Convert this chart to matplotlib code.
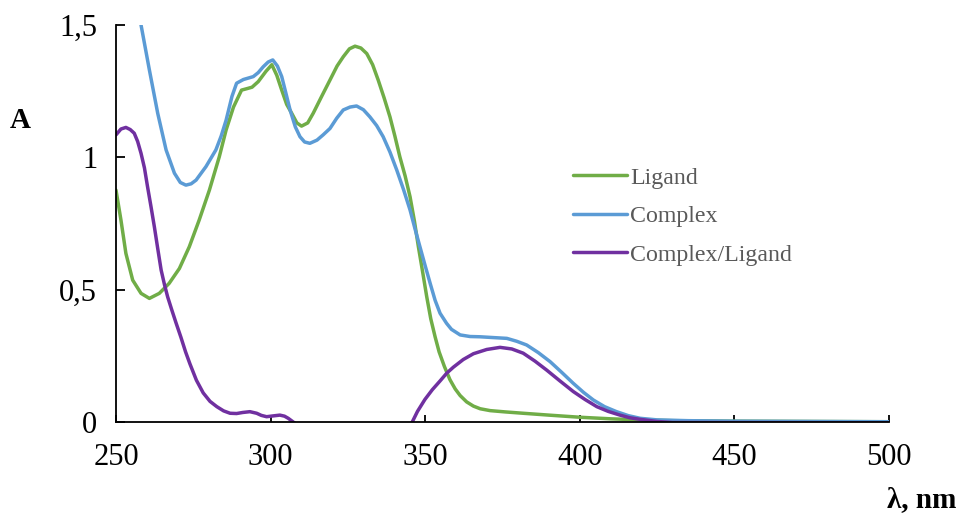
import matplotlib
matplotlib.use("Agg")
import matplotlib.pyplot as plt
from matplotlib.ticker import FuncFormatter

# wavelength (nm) / absorbance
ligand_wl = [250, 251.6, 253.2, 255.4, 258.1, 260.8, 264, 267.2, 270.5, 273.7, 276.9, 280.2,
             283.4, 285.6, 288, 290.6, 292.5, 294, 296, 298.5, 300.4, 302, 303.6, 305.2, 306.8,
             308.5, 310, 312, 313.8, 316.5, 319.2, 321.5, 323.5, 325.5, 327.3, 329.2, 331.1, 333,
             334.8, 336.7, 338.6, 340.2, 341.8, 343.5, 345.1, 346.5, 347.8, 349.2, 350.5, 351.8,
             353.2, 354.5, 356.2, 358, 359.7, 361.3, 363.4, 365.6, 367.8, 371, 376, 381.7, 390,
             400, 410, 419.5, 430, 450, 475, 500]
ligand_a = [0.876, 0.763, 0.637, 0.536, 0.486, 0.467, 0.486, 0.524, 0.58, 0.662, 0.763, 0.876,
            1.002, 1.103, 1.19, 1.254, 1.26, 1.265, 1.286, 1.325, 1.35, 1.31, 1.254, 1.2, 1.167,
            1.13, 1.118, 1.13, 1.167, 1.23, 1.292, 1.345, 1.38, 1.41, 1.42, 1.413, 1.392, 1.35,
            1.292, 1.225, 1.153, 1.08, 1.002, 0.93, 0.851, 0.76, 0.662, 0.565, 0.473, 0.39,
            0.322, 0.265, 0.21, 0.16, 0.125, 0.1, 0.076, 0.06, 0.05, 0.043, 0.038, 0.033, 0.026,
            0.018, 0.012, 0.008, 0.005, 0.003, 0.002, 0.001]

complex_wl = [255, 258.1, 260.8, 263.5, 266.2, 268.9, 270.8, 272.6, 274.3, 275.9, 279.1, 282.3,
              284, 285.6, 287.5, 289, 291.2, 294.4, 296, 297.6, 299.2, 300.7, 302.2, 303.6, 305,
              306.3, 308, 309.5, 311, 312.7, 315, 317, 319.2, 321.4, 323.5, 325.7, 327.8, 330,
              332.1, 334.3, 336.4, 338.6, 340.8, 343, 345.1, 346.7, 348.3, 350, 351.6, 353.2,
              354.8, 356.9, 358.5, 361.3, 364.5, 367.7, 372, 376.4, 379.6, 382.8, 386.6, 390.4,
              394.2, 397.9, 401.2, 404.4, 408, 411.9, 415.7, 419.5, 425, 435, 450, 475, 500]
complex_a = [1.70, 1.50, 1.33, 1.166, 1.028, 0.94, 0.905, 0.895, 0.9, 0.914, 0.965, 1.028,
             1.08, 1.14, 1.23, 1.28, 1.294, 1.305, 1.32, 1.342, 1.36, 1.368, 1.345, 1.305, 1.24,
             1.179, 1.115, 1.078, 1.058, 1.053, 1.065, 1.085, 1.109, 1.148, 1.179, 1.19, 1.194,
             1.18, 1.153, 1.12, 1.078, 1.02, 0.952, 0.878, 0.801, 0.73, 0.662, 0.59, 0.524, 0.46,
             0.411, 0.373, 0.35, 0.329, 0.323, 0.322, 0.319, 0.316, 0.305, 0.291, 0.262, 0.228,
             0.187, 0.146, 0.112, 0.083, 0.058, 0.039, 0.024, 0.014, 0.008, 0.005, 0.003, 0.002,
             0.001]

ratio_wl = [250, 251.6, 253.2, 254.6, 255.9, 257, 258.1, 259.2, 260.2, 261.3, 262.4, 263.5,
            264.6, 265.7, 266.7, 268, 269.4, 271, 272.5, 273.9, 276, 278.2, 280.4, 282.6,
            284.8, 286.9, 289, 291, 293.3, 295.5, 297, 298.7, 300.8, 303, 304.5, 305.7, 307.9,
            310, 320, 335, 343, 345.6, 347.5, 349.9, 352.3, 354.8, 357, 359.1, 362.3, 365.6,
            369.9, 374.2, 378, 381.7, 385.5, 389.3, 393.6, 397.9, 401.7, 405.5, 409.2, 413,
            416.2, 419.5, 425, 430, 500]
ratio_a = [1.085, 1.107, 1.113, 1.105, 1.091, 1.06, 1.015, 0.96, 0.889, 0.815, 0.738, 0.655,
           0.574, 0.518, 0.473, 0.425, 0.375, 0.32, 0.265, 0.22, 0.158, 0.11, 0.078, 0.058,
           0.042, 0.033, 0.032, 0.036, 0.039, 0.033, 0.025, 0.02, 0.023, 0.026, 0.022, 0.014,
           -0.005, -0.03, -0.08, -0.08, -0.03, -0.005, 0.04, 0.085, 0.122, 0.155, 0.185, 0.207,
           0.236, 0.258, 0.274, 0.282, 0.276, 0.26, 0.23, 0.196, 0.155, 0.115, 0.085, 0.058,
           0.04, 0.026, 0.016, 0.01, 0.002, -0.002, -0.003]

plt.rcParams['font.family'] = ['Liberation Serif', 'DejaVu Serif']

fig = plt.figure(figsize=(9.57, 5.19), dpi=100)
ax = fig.add_axes([116 / 957, 1 - 422 / 519, 773 / 957, 397 / 519])

ax.plot(ligand_wl, ligand_a, color='#70AD47', lw=2.5, label='Ligand', solid_capstyle='round')
ax.plot(complex_wl, complex_a, color='#5B9BD5', lw=2.5, label='Complex', solid_capstyle='round')
ax.plot(ratio_wl, ratio_a, color='#7030A0', lw=2.5, label='Complex/Ligand', solid_capstyle='round')

ax.set_xlim(250, 500)
ax.set_ylim(0, 1.5)
ax.set_xticks([250, 300, 350, 400, 450, 500])
ax.set_yticks([0, 0.5, 1, 1.5])
ax.yaxis.set_major_formatter(FuncFormatter(lambda v, p: ('%g' % v).replace('.', ',')))

for s in ['top', 'right']:
    ax.spines[s].set_visible(False)
for s in ['left', 'bottom']:
    ax.spines[s].set_linewidth(1.3)
ax.tick_params(axis='x', direction='in', length=5, width=1.3, labelsize=22, pad=15)
ax.tick_params(axis='y', direction='in', length=6.5, width=1.3, labelsize=22, pad=13.5)

ax.legend(loc='upper left', bbox_to_anchor=(573 / 957, 1 - 167 / 519), bbox_transform=fig.transFigure,
          frameon=False, fontsize=17.2, labelcolor='#595959', handlelength=2.26,
          handletextpad=0.12, labelspacing=0.7, borderaxespad=0, borderpad=0)

fig.text(20 / 957, 1 - 120 / 519, 'A', fontsize=21, fontweight='bold', ha='center', va='center')
fig.text(956 / 957, 1 - 507 / 519, 'λ, nm', fontsize=21, fontweight='bold', ha='right', va='baseline')

fig.savefig('out.png', dpi=100)
